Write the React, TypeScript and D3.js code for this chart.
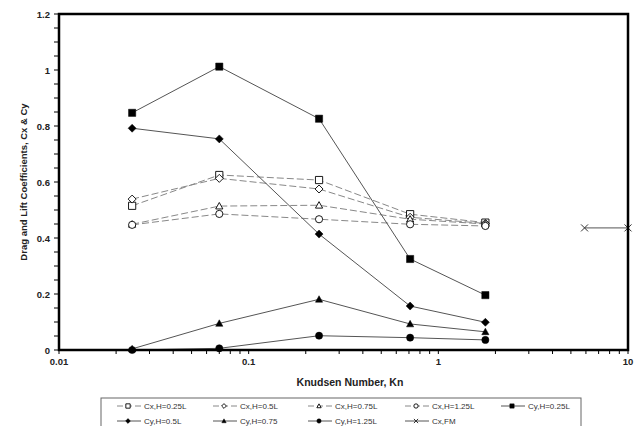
import React from "react";
import * as d3 from "d3";

// Knudsen numbers of the simulated cases
const knudsen = [0.0243, 0.07, 0.235, 0.71, 1.77];
const knudsenFM = [5.9, 10];

// drag coefficients
const cxH025 = [0.515, 0.625, 0.607, 0.485, 0.455];
const cxH05 = [0.539, 0.613, 0.575, 0.474, 0.452];
const cxH075 = [0.449, 0.514, 0.517, 0.467, 0.45];
const cxH125 = [0.447, 0.486, 0.467, 0.449, 0.443];
// lift coefficients
const cyH025 = [0.847, 1.012, 0.826, 0.325, 0.196];
const cyH05 = [0.792, 0.754, 0.414, 0.157, 0.099];
const cyH075 = [0.004, 0.095, 0.181, 0.093, 0.065];
const cyH125 = [0.0, 0.006, 0.051, 0.044, 0.036];
const cxFM = [0.436, 0.436];

const yTicks = [0, 0.2, 0.4, 0.6, 0.8, 1, 1.2];
const xTicks = [0.01, 0.1, 1, 10];

type Marker = "square" | "diamond" | "triangle" | "circle" | "cross";

interface Series {
  name: string;
  x: number[];
  y: number[];
  marker: Marker;
  open: boolean;
  dashed: boolean;
}

const series: Series[] = [
  { name: "Cx,H=0.25L", x: knudsen, y: cxH025, marker: "square", open: true, dashed: true },
  { name: "Cx,H=0.5L", x: knudsen, y: cxH05, marker: "diamond", open: true, dashed: true },
  { name: "Cx,H=0.75L", x: knudsen, y: cxH075, marker: "triangle", open: true, dashed: true },
  { name: "Cx,H=1.25L", x: knudsen, y: cxH125, marker: "circle", open: true, dashed: true },
  { name: "Cy,H=0.25L", x: knudsen, y: cyH025, marker: "square", open: false, dashed: false },
  { name: "Cy,H=0.5L", x: knudsen, y: cyH05, marker: "diamond", open: false, dashed: false },
  { name: "Cy,H=0.75", x: knudsen, y: cyH075, marker: "triangle", open: false, dashed: false },
  { name: "Cy,H=1.25L", x: knudsen, y: cyH125, marker: "circle", open: false, dashed: false },
  { name: "Cx,FM", x: knudsenFM, y: cxFM, marker: "cross", open: true, dashed: false },
];

const left = 59;
const right = 628;
const top = 14;
const bottom = 350;

const x = d3.scaleLog().domain([0.01, 10]).range([left, right]);
const y = d3.scaleLinear().domain([0, 1.2]).range([bottom, top]);

const FONT = "Liberation Sans, Arial, sans-serif";

function markerPath(m: Marker, r: number) {
  if (m === "square") return `M${-r},${-r}H${r}V${r}H${-r}Z`;
  if (m === "diamond") return `M0,${-r}L${r},0L0,${r}L${-r},0Z`;
  if (m === "triangle") return `M0,${-r}L${r},${r * 0.8}L${-r},${r * 0.8}Z`;
  if (m === "cross") return `M${-r},${-r}L${r},${r}M${-r},${r}L${r},${-r}`;
  return d3.arc()({ innerRadius: 0, outerRadius: r, startAngle: 0, endAngle: 2 * Math.PI }) as string;
}

function MarkerShape({ s, cx, cy, small }: { s: Series; cx: number; cy: number; small?: boolean }) {
  let r = s.marker === "diamond" ? 4 : s.marker === "cross" ? 3.5 : 3.6;
  if (small) r = r * 0.6;
  if (s.marker === "cross") {
    return <path d={markerPath("cross", r)} transform={`translate(${cx},${cy})`} stroke="#333" strokeWidth={1} fill="none" />;
  }
  return (
    <path
      d={markerPath(s.marker, r)}
      transform={`translate(${cx},${cy})`}
      fill={s.open ? "#fff" : "#000"}
      stroke="#000"
      strokeWidth={s.open ? 0.9 : 0.5}
    />
  );
}

export default function App() {
  const line = d3
    .line<[number, number]>()
    .x((d) => x(d[0]))
    .y((d) => y(d[1]));

  const minorY = d3.range(0, 1.2001, 0.05);
  const minorX: number[] = [];
  [0.01, 0.1, 1].forEach((dec) => {
    for (let k = 1; k <= 9; k++) minorX.push(dec * k);
  });
  minorX.push(10);

  // legend layout: two rows of entries
  const legendCols = [117, 213, 308, 405, 501];
  const legendRows = [406, 421];

  return (
    <svg width={643} height={426} style={{ position: "absolute", left: 0, top: 0, background: "#fff" }}>
      {/* y ticks */}
      {minorY.map((v, i) => (
        <line key={"yt" + i} x1={left - 5} x2={left} y1={y(v)} y2={y(v)} stroke="#000" strokeWidth={1} />
      ))}
      {yTicks.map((v) => (
        <text
          key={"yl" + v}
          x={left - 9}
          y={y(v) + 3.5}
          textAnchor="end"
          fontFamily={FONT}
          fontWeight="bold"
          fontSize={9.5}
          fill="#222"
        >
          {v}
        </text>
      ))}
      {/* x ticks */}
      {minorX.map((v, i) => (
        <line key={"xt" + i} x1={x(v)} x2={x(v)} y1={bottom} y2={bottom + 4} stroke="#000" strokeWidth={1} />
      ))}
      {xTicks.map((v) => (
        <text
          key={"xl" + v}
          x={x(v)}
          y={bottom + 15}
          textAnchor="middle"
          fontFamily={FONT}
          fontWeight="bold"
          fontSize={9.5}
          fill="#222"
        >
          {v}
        </text>
      ))}

      {/* series lines */}
      {series.map((s) => (
        <path
          key={"l" + s.name}
          d={line(s.x.map((v, i) => [v, s.y[i]] as [number, number])) as string}
          fill="none"
          stroke={s.dashed ? "#888" : "#555"}
          strokeWidth={1}
          strokeDasharray={s.dashed ? "7,3" : undefined}
        />
      ))}
      {series.map((s) =>
        s.x.map((v, i) => <MarkerShape key={s.name + i} s={s} cx={x(v)} cy={y(s.y[i])} />)
      )}

      {/* plot frame */}
      <rect x={left} y={top} width={right - left} height={bottom - top} fill="none" stroke="#000" strokeWidth={2.5} />

      {/* axis titles */}
      <text
        x={350}
        y={386}
        textAnchor="middle"
        fontFamily={FONT}
        fontWeight="bold"
        fontSize={10.5}
        fill="#222"
      >
        Knudsen Number, Kn
      </text>
      <text
        transform={`translate(27,${(top + bottom) / 2}) rotate(-90)`}
        textAnchor="middle"
        fontFamily={FONT}
        fontWeight="bold"
        fontSize={9.5}
        fill="#222"
      >
        Drag and Lift Coefficients, Cx &amp; Cy
      </text>

      {/* legend */}
      <rect x={101} y={398} width={480} height={40} fill="#fff" stroke="#666" strokeWidth={1} />
      {series.map((s, i) => {
        const row = i < 5 ? 0 : 1;
        const col = i < 5 ? i : i - 5;
        const x0 = legendCols[col];
        const ly = legendRows[row];
        return (
          <g key={"lg" + s.name}>
            <line
              x1={x0}
              x2={x0 + 24}
              y1={ly}
              y2={ly}
              stroke={s.dashed ? "#888" : "#555"}
              strokeWidth={1}
              strokeDasharray={s.dashed ? "6,3" : undefined}
            />
            <MarkerShape s={s} cx={x0 + 11} cy={ly} small />
            <text x={x0 + 27} y={ly + 3} fontFamily={FONT} fontSize={8} fill="#333">
              {s.name}
            </text>
          </g>
        );
      })}
    </svg>
  );
}
